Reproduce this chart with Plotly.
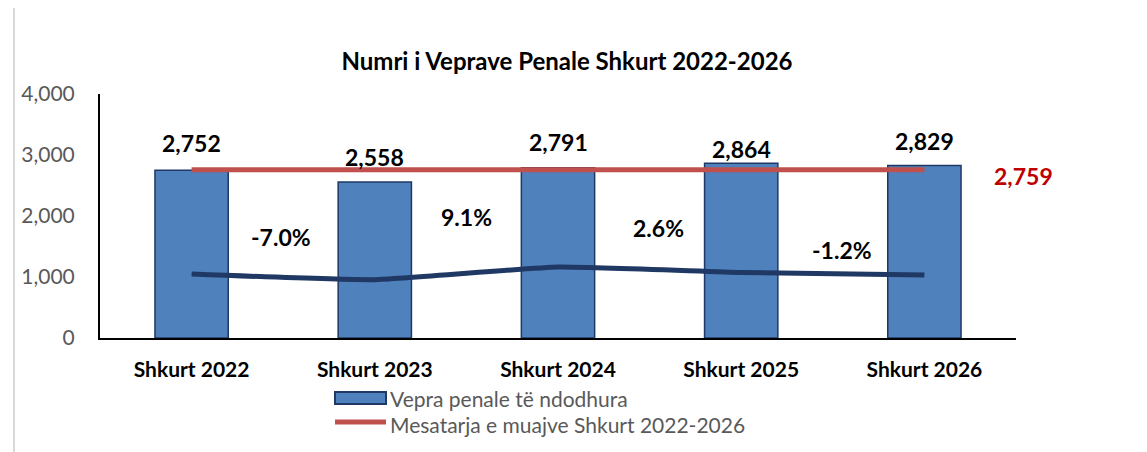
import plotly.graph_objects as go

categories = ["Shkurt 2022", "Shkurt 2023", "Shkurt 2024", "Shkurt 2025", "Shkurt 2026"]
crimes = [2752, 2558, 2791, 2864, 2829]
average = [2759, 2759, 2759, 2759, 2759]
trend_line = [1049, 956, 1164, 1075, 1033]
pct_labels = ["-7.0%", "9.1%", "2.6%", "-1.2%"]
avg_label = "2,759"
legend_names = ["Vepra penale të ndodhura", "Mesatarja e muajve Shkurt 2022-2026"]

FONT = "Lato"
BAR = "#4F81BD"
BAR_EDGE = "#1F3864"
RED = "#C0504D"
NAVY = "#1F3864"

W, H = 1147, 452
OFF = 8  # page body margin offset
L, R, T, B = 100 - OFF, 1016 - OFF, 94 - OFF, 338 - OFF  # plot area in figure pixels


def px(x):
    return (x - OFF - L) / (R - L)


def py(y):
    return (B - (y - OFF)) / (B - T)


fig = go.Figure()
fig.add_trace(go.Bar(
    x=categories, y=crimes, name=legend_names[0],
    marker=dict(color=BAR, line=dict(color=BAR_EDGE, width=1.5)),
))
fig.add_trace(go.Scatter(
    x=categories, y=average, name=legend_names[1],
    mode="lines", line=dict(color=RED, width=5),
))
fig.add_trace(go.Scatter(
    x=categories, y=trend_line, mode="lines",
    line=dict(color=NAVY, width=5, shape="spline", smoothing=0.4),
))

ann = []
label_shift = [27, 25, 26, 14, 24]
for i, (c, v) in enumerate(zip(categories, crimes)):
    ann.append(dict(x=c, y=v, text=f"{v:,}", showarrow=False, yshift=label_shift[i],
                    font=dict(family=FONT, size=23, color="black", weight="bold")))
pct_y = [1661, 1989, 1803, 1448]
pct_x = [0.49, 1.5, 2.55, 3.55]
for i, t in enumerate(pct_labels):
    ann.append(dict(x=pct_x[i], y=pct_y[i], text=t, showarrow=False,
                    font=dict(family=FONT, size=23, color="black", weight="bold")))
ann.append(dict(x=4, y=average[-1], text=avg_label, showarrow=False, xanchor="left",
                xshift=68, yshift=-6,
                font=dict(family=FONT, size=23, color="#C00000", weight="bold")))
# manual legend text
for yy, name in zip([398, 424], legend_names):
    ann.append(dict(xref="paper", yref="paper", x=px(389), y=py(yy), text=name,
                    showarrow=False, xanchor="left", yanchor="middle", borderpad=0, height=26,
                    font=dict(family=FONT, size=21, color="#595959")))

shapes = [
    dict(type="rect", xref="paper", yref="paper", x0=px(14), x1=px(1400), y0=py(700), y1=py(2),
         line=dict(color="#D9D9D9", width=2), layer="below"),
    dict(type="rect", xref="paper", yref="paper", x0=px(335), x1=px(386), y0=py(404), y1=py(392),
         fillcolor=BAR, line=dict(color=BAR_EDGE, width=2)),
    dict(type="line", xref="paper", yref="paper", x0=px(335), x1=px(386), y0=py(422), y1=py(422),
         line=dict(color=RED, width=5)),
]

fig.update_layout(
    width=W, height=H,
    margin=dict(l=L, r=W - R, t=T, b=H - B, autoexpand=False),
    paper_bgcolor="white", plot_bgcolor="white",
    bargap=0.6,
    showlegend=False,
    title=dict(text="<b>Numri i Veprave Penale Shkurt 2022-2026</b>", x=px(567), xanchor="center",
               xref="paper", y=1 - (62 - OFF) / H, yanchor="middle",
               font=dict(family=FONT, size=24, color="black")),
    annotations=ann,
    shapes=shapes,
)
fig.update_xaxes(range=[-0.5, 4.5], showline=True, linecolor="black", linewidth=2, showgrid=False,
                 automargin=False, ticks="", ticklabelstandoff=12,
                 tickfont=dict(family=FONT, size=21, color="black", weight="bold"))
fig.update_yaxes(range=[0, 4000], dtick=1000, tickformat=",", showline=True, linecolor="black",
                 linewidth=2, showgrid=False, zeroline=False, ticks="", ticklabelstandoff=19,
                 automargin=False,
                 tickfont=dict(family=FONT, size=21, color="#595959"))

fig.write_html("out.html")
